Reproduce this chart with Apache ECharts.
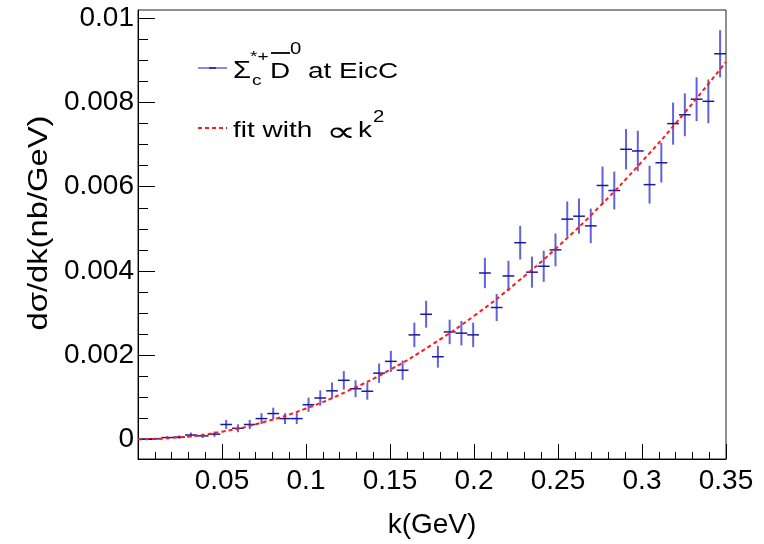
<!DOCTYPE html>
<html>
<head>
<meta charset="utf-8">
<script src="https://cdn.jsdelivr.net/npm/echarts@6/dist/echarts.min.js"></script>
<style>
html,body{margin:0;padding:0;background:#fff;}
#chart{width:764px;height:544px;}
</style>
</head>
<body>
<div id="chart"></div>
<script>
// ---- data ----
const kCenters = [0.0035,0.0105,0.0175,0.0245,0.0315,0.0385,0.0455,0.0525,0.0595,0.0665,
  0.0735,0.0805,0.0875,0.0945,0.1015,0.1085,0.1155,0.1225,0.1295,0.1365,
  0.1435,0.1505,0.1575,0.1645,0.1715,0.1785,0.1855,0.1925,0.1995,0.2065,
  0.2135,0.2205,0.2275,0.2345,0.2415,0.2485,0.2555,0.2625,0.2695,0.2765,
  0.2835,0.2905,0.2975,0.3045,0.3115,0.3185,0.3255,0.3325,0.3395,0.3465];
const binHalfWidth = 0.0035;
const dsdk = [0.000005,0.00001,0.00004,0.00005,0.0001,0.00008,0.00012,0.00035,0.00026,0.00035,
  0.00049,0.00061,0.00049,0.00049,0.00082,0.00098,0.00115,0.0014,0.0012,0.00114,
  0.00157,0.00185,0.00164,0.00248,0.00297,0.00196,0.00255,0.00252,0.00248,0.00395,
  0.00313,0.00388,0.00467,0.00397,0.00411,0.0045,0.00523,0.0053,0.00507,0.00603,
  0.00591,0.00689,0.00685,0.00605,0.00657,0.0075,0.00771,0.00808,0.00803,0.00916];
const dsdkErr = [0.000013,0.000018,0.000037,0.00004,0.000058,0.000052,0.000064,0.00011,0.000094,0.00011,
  0.00013,0.00014,0.00013,0.00013,0.00017,0.00018,0.0002,0.00022,0.0002,0.0002,
  0.00023,0.00025,0.00023,0.00029,0.00032,0.00026,0.00029,0.00029,0.00029,0.00036,
  0.00032,0.00036,0.0004,0.00037,0.00037,0.00039,0.00042,0.00042,0.00041,0.00045,
  0.00045,0.00048,0.00048,0.00045,0.00047,0.0005,0.00051,0.00052,0.00052,0.00056];
const kFit = [0,0.025,0.05,0.075,0.1,0.125,0.15,0.175,0.2,0.225,0.25,0.275,0.3,0.325,0.35];
const fitVals = [0,0.000046,0.00018,0.00041,0.00073,0.00115,0.00165,0.00225,0.00293,0.00371,0.00458,0.00554,0.0066,0.00774,0.00897];
const yMajorTicks = [0,0.002,0.004,0.006,0.008,0.01];
const yMinorTicks = [0.0005,0.001,0.0015,0.0025,0.003,0.0035,0.0045,0.005,0.0055,0.0065,0.007,0.0075,0.0085,0.009,0.0095,0.01];
const xTitle = 'k(GeV)';
const yTitle = 'dσ/dk(nb/GeV)';

const FONT = '"Liberation Sans", Arial, Helvetica, sans-serif';
const chart = echarts.init(document.getElementById('chart'), null, {renderer:'canvas'});

const errData = kCenters.map((k,i)=>[k, dsdk[i], dsdkErr[i]]);
const fitData = kFit.map((k,i)=>[k, fitVals[i]]);

const yMin = -0.00047, yMax = 0.0102;
const SX = 1.27;
function txt(s, x, y, size, extra){
  return Object.assign({type:'text',x:x,y:y,scaleX:SX,style:{text:s,font:size+'px '+FONT,fill:'#000',verticalAlign:'middle',align:'left'}}, extra||{});
}

chart.setOption({
  backgroundColor:'#fff',
  animation:false,
  grid:{left:138,right:38,top:10,bottom:77,show:true,borderColor:'#222',borderWidth:1,backgroundColor:'transparent'},
  xAxis:{
    type:'value',min:0,max:0.35,interval:0.05,
    name:xTitle,nameLocation:'middle',nameGap:52,
    nameTextStyle:{fontFamily:FONT,fontSize:28,color:'#000'},
    axisLine:{show:true,onZero:false,lineStyle:{color:'#000',width:1}},
    axisTick:{show:true,inside:true,length:15,lineStyle:{color:'#000'}},
    minorTick:{show:true,splitNumber:5,length:7,lineStyle:{color:'#000'}},
    axisLabel:{fontFamily:FONT,fontSize:28,color:'#000',margin:8,showMinLabel:false},
    splitLine:{show:false}
  },
  yAxis:[{
    type:'value',min:yMin,max:yMax,
    axisLine:{show:true,onZero:false,lineStyle:{color:'#000',width:1}},
    axisTick:{show:true,inside:true,length:17,customValues:yMajorTicks,lineStyle:{color:'#000'}},
    axisLabel:{fontFamily:FONT,fontSize:28,color:'#000',margin:4,customValues:yMajorTicks},
    splitLine:{show:false}
  },{
    type:'value',min:yMin,max:yMax,position:'left',
    axisLine:{show:false},
    axisTick:{show:true,inside:true,length:10,customValues:yMinorTicks,lineStyle:{color:'#000'}},
    axisLabel:{show:false,customValues:yMinorTicks},
    splitLine:{show:false}
  }],
  series:[{
    type:'custom',
    name:'data',
    data:errData,
    encode:{x:0,y:1},
    z:3,
    renderItem:function(params, api){
      const x=api.value(0), y=api.value(1), e=api.value(2);
      const c=api.coord([x,y]);
      const lo=api.coord([x,y-e]), hi=api.coord([x,y+e]);
      const l=api.coord([x-binHalfWidth,y]), r=api.coord([x+binHalfWidth,y]);
      return {type:'group',children:[
        {type:'line',shape:{x1:c[0],y1:lo[1],x2:c[0],y2:hi[1]},style:{stroke:'rgba(70,70,215,0.85)',lineWidth:2}},
        {type:'line',shape:{x1:l[0],y1:c[1],x2:r[0],y2:c[1]},style:{stroke:'#1a1a9c',lineWidth:1.5}}
      ]};
    }
  },{
    type:'line',
    name:'fit',
    data:fitData,
    smooth:true,
    showSymbol:false,
    z:4,
    lineStyle:{color:'#ff1a1a',width:2,type:[4,3]}
  }],
  graphic:[
    {type:'text',x:39,y:223,rotation:Math.PI/2,scaleX:1.17,
      style:{text:yTitle,font:'28px '+FONT,fill:'#000',align:'center',verticalAlign:'middle'}},
    {type:'line',shape:{x1:198,y1:68,x2:227,y2:68},style:{stroke:'rgba(70,70,215,0.85)',lineWidth:1.5}},
    {type:'line',shape:{x1:209,y1:68,x2:216,y2:68},style:{stroke:'#1a1a9c',lineWidth:1.5}},
    txt('Σ',233,72,23),
    txt('c',252,81,15),
    txt('*+',250,57,15),
    txt('D',270,72,22),
    {type:'line',shape:{x1:271,y1:53,x2:290,y2:53},style:{stroke:'#000',lineWidth:1.8}},
    txt('0',290,50,16),
    txt('at EicC',308,72,22),
    {type:'line',shape:{x1:198,y1:128,x2:227,y2:128},style:{stroke:'#ff1a1a',lineWidth:2,lineDash:[4,3]}},
    txt('fit with',233,131,22),
    {type:'text',x:341,y:133,scaleX:1.5,style:{text:'∝',font:'28px '+FONT,fill:'#000',verticalAlign:'middle',align:'center'}},
    txt('k',358,131,22),
    txt('2',373,118,16)
  ]
});
</script>
</body>
</html>
